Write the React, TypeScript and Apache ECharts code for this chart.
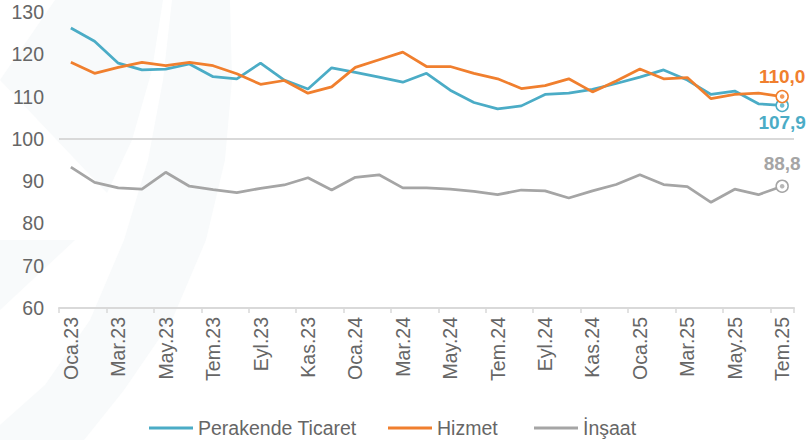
import React, { useEffect, useRef } from "react";
import * as echarts from "echarts";

const categories = [
  "Oca.23", "Şub.23", "Mar.23", "Nis.23", "May.23", "Haz.23", "Tem.23", "Ağu.23", "Eyl.23", "Eki.23", "Kas.23", "Ara.23",
  "Oca.24", "Şub.24", "Mar.24", "Nis.24", "May.24", "Haz.24", "Tem.24", "Ağu.24", "Eyl.24", "Eki.24", "Kas.24", "Ara.24",
  "Oca.25", "Şub.25", "Mar.25", "Nis.25", "May.25", "Haz.25", "Tem.25",
];

const perakende = [126.2, 123.1, 117.9, 116.3, 116.5, 117.7, 114.7, 114.2, 117.9, 113.9, 111.8, 116.8, 115.7, 114.6, 113.4, 115.5, 111.5, 108.6, 107.1, 107.8, 110.5, 110.8, 111.7, 113.1, 114.6, 116.3, 113.9, 110.5, 111.3, 108.3, 107.9];
const hizmet = [118.1, 115.5, 116.9, 118.1, 117.3, 118.1, 117.3, 115.4, 112.9, 113.8, 110.8, 112.3, 116.9, 118.7, 120.5, 117.1, 117.1, 115.5, 114.2, 111.9, 112.6, 114.2, 111.1, 113.7, 116.5, 114.2, 114.5, 109.5, 110.5, 110.8, 110.0];
const insaat = [93.3, 89.7, 88.4, 88.1, 92.1, 88.8, 88.0, 87.3, 88.3, 89.1, 90.8, 87.9, 90.9, 91.5, 88.4, 88.4, 88.1, 87.6, 86.8, 87.9, 87.7, 86.0, 87.7, 89.2, 91.5, 89.2, 88.7, 85.0, 88.1, 86.8, 88.8];

const seriesNames = ["Perakende Ticaret", "Hizmet", "İnşaat"];
const colors = ["#4bacc6", "#f07f2e", "#a5a5a5"];
const yTicks = { min: 60, max: 130, interval: 10 };
const referenceLevel = 100;

const FONT = "Liberation Sans";
const TEXT = "#666666";
const FS = 19.5;
const fmt = (v: number) => v.toFixed(1).replace(".", ",");

export default function App() {
  const ref = useRef<HTMLDivElement>(null);
  useEffect(() => {
    document.body.style.margin = "0";
    if (!ref.current) return;
    const chart = echarts.init(ref.current, undefined, { renderer: "svg" });
    const values = [perakende, hizmet, insaat];
    const labelPos = ["bottom", "top", "top"];
    const labelDist = [1, 4, 6];
    const last = categories.length - 1;

    const lineSeries = values.map((arr, si) => ({
      name: seriesNames[si],
      type: "line",
      z: 3,
      symbol: "none",
      showSymbol: true,
      lineStyle: { color: colors[si], width: 2.75 },
      itemStyle: { color: colors[si] },
      data: arr.map((v, i) =>
        i === last
          ? {
              value: v,
              symbol: "circle",
              symbolSize: 12,
              itemStyle: { color: "#ffffff", borderColor: colors[si], borderWidth: 1.5 },
              label: {
                show: true,
                position: labelPos[si],
                distance: labelDist[si],
                formatter: (p: any) => fmt(p.value),
                color: colors[si],
                fontFamily: FONT,
                fontWeight: "bold",
                fontSize: 19,
              },
            }
          : v
      ),
      markLine:
        si === 0
          ? {
              silent: true,
              symbol: ["none", "none"],
              label: { show: false },
              lineStyle: { color: "#d9d9d9", type: "solid", width: 2 },
              data: [{ yAxis: referenceLevel }],
              z: 1,
            }
          : undefined,
    }));

    const dotSeries = values.map((arr, si) => ({
      name: seriesNames[si] + "_dot",
      type: "scatter",
      z: 5,
      symbol: "circle",
      symbolSize: 4.5,
      itemStyle: { color: colors[si] },
      silent: true,
      data: [[last, arr[last]]],
    }));

    const wm = "#f8fafb";
    const legendLefts = [144, 383, 529];

    chart.setOption({
      animation: false,
      textStyle: { fontFamily: FONT },
      graphic: [
        {
          type: "polygon",
          silent: true,
          z: -10,
          shape: { points: [[0, 80], [55, 0], [163, 0], [152, 70], [132, 140], [107, 193]] },
          style: { fill: wm },
        },
        {
          type: "polygon",
          silent: true,
          z: -10,
          shape: {
            points: [
              [172, 0], [230, 0], [232, 80], [225, 160], [206, 240], [172, 320], [124, 390], [84, 440],
              [0, 440], [0, 425], [45, 385], [90, 320], [124, 240], [148, 160], [163, 80],
            ],
          },
          style: { fill: wm },
        },
        {
          type: "polygon",
          silent: true,
          z: -10,
          shape: { points: [[0, 240], [75, 240], [0, 310]] },
          style: { fill: wm },
        },
      ],
      legend: seriesNames.map((n, i) => ({
        data: [n],
        left: legendLefts[i],
        top: 413,
        icon: "rect",
        itemWidth: 44,
        itemHeight: 3,
        itemGap: 11,
        textStyle: { color: TEXT, fontSize: FS, fontFamily: FONT },
        selectedMode: false,
      })),
      grid: { left: 59, right: 13, top: 12, bottom: 132, containLabel: false },
      xAxis: {
        type: "category",
        data: categories,
        boundaryGap: true,
        axisLine: { show: true, lineStyle: { color: "#d9d9d9", width: 2 } },
        axisTick: { show: true, interval: 1, length: 5, lineStyle: { color: "#d9d9d9", width: 1.5 } },
        axisLabel: {
          interval: 1,
          rotate: 90,
          margin: 9,
          color: TEXT,
          fontSize: FS,
          fontFamily: FONT,
        },
        splitLine: { show: false },
      },
      yAxis: {
        type: "value",
        min: yTicks.min,
        max: yTicks.max,
        interval: yTicks.interval,
        axisLine: { show: false },
        axisTick: { show: false },
        splitLine: { show: false },
        axisLabel: { color: TEXT, fontSize: FS, fontFamily: FONT, margin: 15 },
      },
      series: [...lineSeries, ...dotSeries],
    });
    return () => chart.dispose();
  }, []);
  return <div ref={ref} style={{ width: 807, height: 440 }} />;
}
